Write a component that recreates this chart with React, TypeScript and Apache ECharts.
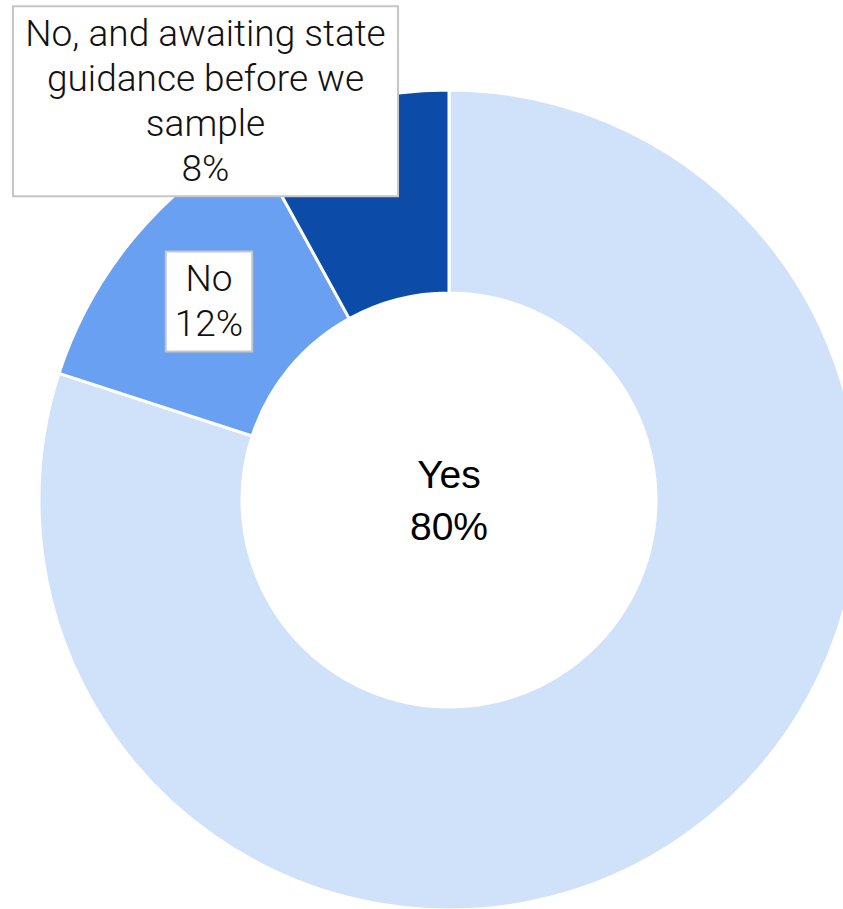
import React, { useEffect, useRef } from "react";
import * as echarts from "echarts";

const categories = ["Yes", "No", "No, and awaiting state guidance before we sample"];
const values = [80, 12, 8];
const colors = ["#d0e1fa", "#69a0f2", "#0d4ba9"];

export default function App() {
  const ref = useRef<HTMLDivElement>(null);
  useEffect(() => {
    if (!ref.current) return;
    const chart = echarts.init(ref.current, null, { renderer: "svg" });
    const boxLabel = {
      show: true,
      position: "inside",
      formatter: "{b}\n{d}%",
      color: "#111",
      fontFamily: "Roboto",
      fontWeight: 300,
      fontSize: 37,
      lineHeight: 45,
      backgroundColor: "#fff",
      borderColor: "#c6c6c6",
      borderWidth: 2,
      padding: [4, 8],
      align: "center",
    };
    const data = categories.map((name, i) => {
      const item: any = { name, value: values[i], itemStyle: { color: colors[i] } };
      if (i === 0) {
        item.label = {
          show: true,
          position: "center",
          formatter: "{b}\n{d}%",
          color: "#000",
          fontFamily: "Liberation Sans, Arial, sans-serif",
          fontWeight: 400,
          fontSize: 39,
          lineHeight: 52,
        };
      } else if (i === 2) {
        item.label = { ...boxLabel, width: 367, overflow: "break" };
      } else {
        item.label = { ...boxLabel };
      }
      return item;
    });
    chart.setOption({
      animation: false,
      series: [
        {
          type: "pie",
          center: [449, 500],
          radius: [207, 410],
          startAngle: 90,
          clockwise: true,
          avoidLabelOverlap: false,
          labelLine: { show: false },
          itemStyle: { borderColor: "#fff", borderWidth: 3 },
          emphasis: { disabled: true },
          labelLayout: (params: any) =>
            params.dataIndex === 2 ? { dx: -166, dy: -97 } : {},
          data,
        },
      ],
    });
    return () => chart.dispose();
  }, []);
  return (
    <div
      ref={ref}
      style={{ position: "absolute", left: 0, top: 0, width: 843, height: 909 }}
    />
  );
}
